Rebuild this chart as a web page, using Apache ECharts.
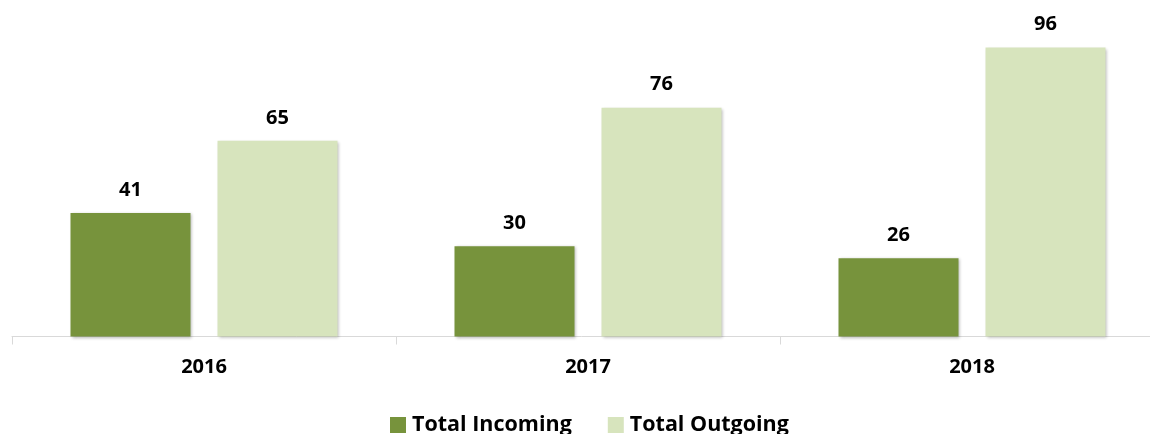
<!DOCTYPE html>
<html>
<head>
<meta charset="utf-8">
<script src="https://cdn.jsdelivr.net/npm/echarts@6/dist/echarts.min.js"></script>
<style>
  html, body { margin: 0; padding: 0; background: #ffffff; }
  #chart { width: 1150px; height: 434px; }
</style>
</head>
<body>
<div id="chart"></div>
<script>
// Yearly totals
const years = ['2016', '2017', '2018'];
const incoming = [41, 30, 26];
const outgoing = [65, 76, 96];
const seriesNames = ['Total Incoming', 'Total Outgoing'];

const FONT = '"Open Sans"';
const barShadow = {
  shadowBlur: 3,
  shadowColor: 'rgba(0,0,0,0.28)',
  shadowOffsetX: 1,
  shadowOffsetY: 1
};
const valueLabel = {
  show: true,
  position: 'top',
  distance: 13,
  color: '#000000',
  fontFamily: FONT,
  fontWeight: 'bold',
  fontSize: 20
};

const chart = echarts.init(document.getElementById('chart'), null, { renderer: 'canvas' });
chart.setOption({
  animation: false,
  backgroundColor: '#ffffff',
  // the plot runs slightly past the right edge of the canvas
  grid: {
    left: 12, width: 1152, top: 35.5, bottom: 97.5,
    containLabel: false,
    outerBoundsMode: 'none'
  },
  legend: {
    top: 409,
    left: 385,
    itemWidth: 16,
    itemHeight: 16,
    itemGap: 36,
    icon: 'rect',
    textStyle: { fontFamily: FONT, fontWeight: 'bold', fontSize: 21.5, color: '#000000', padding: [0, 0, 0, 1] },
    data: seriesNames
  },
  xAxis: {
    type: 'category',
    data: years,
    boundaryGap: true,
    axisLine: { lineStyle: { color: '#d9d9d9', width: 1 } },
    axisTick: { show: true, length: 8, lineStyle: { color: '#d9d9d9' } },
    axisLabel: { margin: 21, color: '#000000', fontFamily: FONT, fontWeight: 'bold', fontSize: 20 }
  },
  yAxis: {
    type: 'value',
    min: 0,
    max: 100,
    show: false,
    splitLine: { show: false }
  },
  series: [
    {
      name: seriesNames[0],
      type: 'bar',
      data: incoming,
      barWidth: 120,
      barGap: '22.5%',
      itemStyle: Object.assign({ color: '#77933c' }, barShadow),
      label: valueLabel
    },
    {
      name: seriesNames[1],
      type: 'bar',
      data: outgoing,
      barWidth: 120,
      itemStyle: Object.assign({ color: '#d7e4bd' }, barShadow),
      label: valueLabel
    }
  ]
});
</script>
</body>
</html>
